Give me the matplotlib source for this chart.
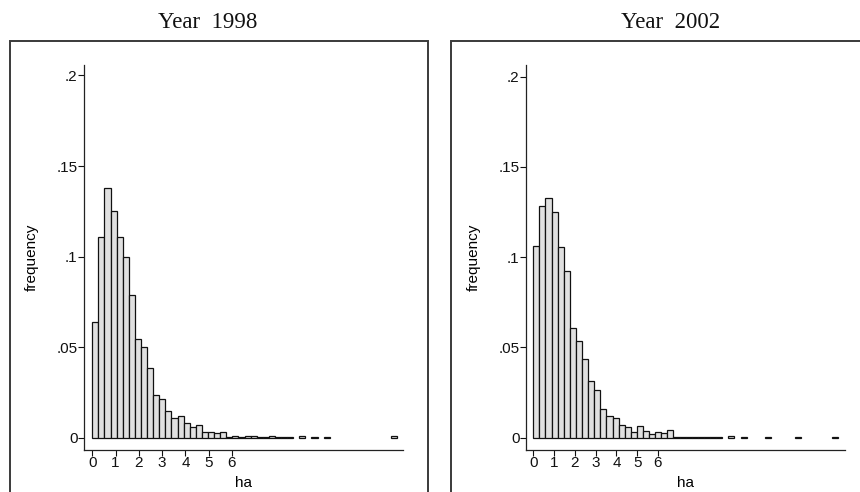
import numpy as np
import matplotlib
matplotlib.use("Agg")
import matplotlib.pyplot as plt
from matplotlib.patches import Rectangle
from matplotlib.ticker import FixedLocator, FixedFormatter

# ============================================================
# Data: relative frequency per bin (50 bins starting at 0 ha)
# ============================================================
years = ["1998", "2002"]
bin_width_1998 = 0.2616
bin_width_2002 = 0.2933

freq_1998 = [
    0.064, 0.1108, 0.138, 0.125, 0.1108, 0.100, 0.0786, 0.0542, 0.0502, 0.0382,
    0.0237, 0.0215, 0.0145, 0.0108, 0.0117, 0.0078, 0.0060, 0.0071, 0.0032, 0.0032,
    0.0023, 0.0032, 0.0005, 0.0008, 0.0005, 0.0008, 0.0008, 0.0003, 0.0005, 0.0008,
    0.0005, 0.0005, 0.0005, 0.0, 0.0008, 0.0, 0.0003, 0.0, 0.0003, 0.0,
    0.0, 0.0, 0.0, 0.0, 0.0, 0.0, 0.0, 0.0, 0.0, 0.0008,
]
freq_2002 = [
    0.106, 0.1285, 0.133, 0.125, 0.1056, 0.0925, 0.061, 0.0535, 0.0436, 0.0316,
    0.0262, 0.0157, 0.0122, 0.0107, 0.0070, 0.0061, 0.0030, 0.0063, 0.0039, 0.0020,
    0.0033, 0.0024, 0.0041, 0.0006, 0.0006, 0.0006, 0.0006, 0.0002, 0.0006, 0.0002,
    0.0006, 0.0, 0.0008, 0.0, 0.0002, 0.0, 0.0, 0.0, 0.0002, 0.0,
    0.0, 0.0, 0.0, 0.0002, 0.0, 0.0, 0.0, 0.0, 0.0, 0.0002,
]

x_ticks = [0, 1, 2, 3, 4, 5, 6]
y_ticks = [0, 0.05, 0.1, 0.15, 0.2]
y_ticklabels = ["0", ".05", ".1", ".15", ".2"]

# ============================================================
# Figure
# ============================================================
W, H = 860, 492
fig = plt.figure(figsize=(W / 100, H / 100), dpi=100)

sans = ["Liberation Sans Narrow", "Liberation Sans", "DejaVu Sans"]
serif = ["Liberation Serif", "DejaVu Serif"]


def px_rect(x0, y0, x1, y1):
    """pixel box (top-left origin) -> figure fraction [l, b, w, h]"""
    return [x0 / W, 1 - y1 / H, (x1 - x0) / W, (y1 - y0) / H]


panels = [
    dict(year="1998", freq=freq_1998, bw=bin_width_1998,
         ax_px=(84, 65, 403, 450), xlim=(-0.357, 13.35), ylim=(-0.0069, 0.2058),
         box=(10, 41, 428, 510), title_x=208),
    dict(year="2002", freq=freq_2002, bw=bin_width_2002,
         ax_px=(525.7, 65, 845, 450), xlim=(-0.366, 15.0), ylim=(-0.0068, 0.2064),
         box=(451, 41, 880, 510), title_x=671),
]

for p in panels:
    # outer frame around each graph
    bx0, by0, bx1, by1 = p["box"]
    fig.add_artist(Rectangle((bx0 / W, 1 - by1 / H), (bx1 - bx0) / W, (by1 - by0) / H,
                             transform=fig.transFigure, fill=False,
                             edgecolor="#3a3a3a", linewidth=1.4, clip_on=False))
    fig.text(p["title_x"] / W, 1 - 22 / H, "Year  " + p["year"], ha="center", va="center",
             fontsize=16.5, family=serif, color="#111111")

    ax = fig.add_axes(px_rect(*p["ax_px"]))
    freq = np.array(p["freq"])
    lefts = np.arange(len(freq)) * p["bw"]
    keep = freq > 0
    ax.bar(lefts[keep], freq[keep], width=p["bw"], align="edge",
           color="#e0e0e0", edgecolor="#111111", linewidth=0.9)

    ax.set_xlim(*p["xlim"])
    ax.set_ylim(*p["ylim"])
    for s in ["top", "right"]:
        ax.spines[s].set_visible(False)
    for s in ["left", "bottom"]:
        ax.spines[s].set_linewidth(0.9)
        ax.spines[s].set_color("#222222")

    ax.xaxis.set_major_locator(FixedLocator(x_ticks))
    ax.xaxis.set_major_formatter(FixedFormatter([str(t) for t in x_ticks]))
    ax.yaxis.set_major_locator(FixedLocator(y_ticks))
    ax.yaxis.set_major_formatter(FixedFormatter(y_ticklabels))
    ax.tick_params(axis="both", length=4, width=0.8, pad=0.5, labelsize=11, colors="#111111")
    for lab in ax.get_xticklabels() + ax.get_yticklabels():
        lab.set_family(sans)

    ax.set_xlabel("ha", fontsize=11, family=sans, labelpad=4)
    ax.set_ylabel("frequency", fontsize=11, family=sans, labelpad=13)

fig.savefig("out.png", dpi=100)
